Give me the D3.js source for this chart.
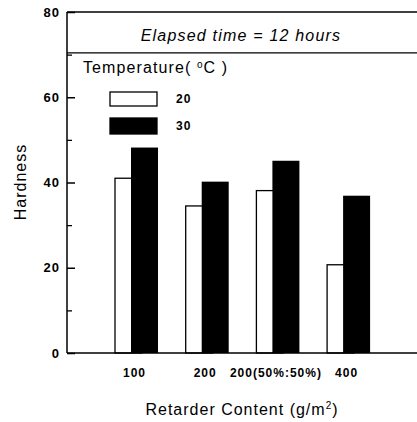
<!DOCTYPE html>
<html>
<head>
<meta charset="utf-8">
<script src="https://cdn.jsdelivr.net/npm/d3@7"></script>
<style>
  body { margin: 0; background: #fff; }
  svg text { font-family: "Liberation Sans", Arial, sans-serif; fill: #000; }
</style>
</head>
<body>
<div id="chart-area"></div>
<script>
const categories = ["100", "200", "200(50%:50%)", "400"];
const series = ["20", "30"];
const hardness20 = [41.0, 34.5, 38.1, 20.7];
const hardness30 = [48.2, 40.2, 45.1, 36.9];
const majorTicks = [0, 20, 40, 60, 80];
const minorTicks = [10, 30, 50, 70];

const svgWidth = 417;
const svgHeight = 422;
const plotLeft = 67, plotTop = 12, plotBottom = 353;

const svg = d3.select("#chart-area")
    .append("svg")
    .attr("width", svgWidth)
    .attr("height", svgHeight);

const yScale = d3.scaleLinear()
    .domain([0, 80])
    .range([plotBottom, plotTop]);

const xScale = d3.scaleBand()
    .domain(categories)
    .range([115, 115 + 4 * 70.7])
    .padding(0);

// white bar sits behind, black one overlaps it
const innerOffset = d3.scaleOrdinal().domain(series).range([0, 16]);
const barWidth = 27;

const rows = categories.map((c, i) => ({ cat: c, v20: hardness20[i], v30: hardness30[i] }));

// bars
svg.append("g").selectAll("rect")
    .data(rows)
    .join("rect")
    .attr("x", d => xScale(d.cat) + innerOffset("20"))
    .attr("y", d => yScale(d.v20))
    .attr("width", barWidth)
    .attr("height", d => yScale(0) - yScale(d.v20))
    .attr("fill", "#fff")
    .attr("stroke", "#000")
    .attr("stroke-width", 1.3);

svg.append("g").selectAll("rect")
    .data(rows)
    .join("rect")
    .attr("x", d => xScale(d.cat) + innerOffset("30"))
    .attr("y", d => yScale(d.v30))
    .attr("width", barWidth)
    .attr("height", d => yScale(0) - yScale(d.v30))
    .attr("fill", "#000");

// frame lines
svg.append("line")
    .attr("x1", plotLeft).attr("x2", svgWidth)
    .attr("y1", yScale(0)).attr("y2", yScale(0))
    .attr("stroke", "#000").attr("stroke-width", 1.5);
svg.append("line")
    .attr("x1", plotLeft).attr("x2", svgWidth)
    .attr("y1", yScale(80)).attr("y2", yScale(80))
    .attr("stroke", "#000").attr("stroke-width", 1.5);
svg.append("line")
    .attr("x1", plotLeft).attr("x2", svgWidth)
    .attr("y1", yScale(70.4)).attr("y2", yScale(70.4))
    .attr("stroke", "#000").attr("stroke-width", 1.3);

// y axis, ticks point inward
const yAxis = d3.axisRight(yScale)
    .tickValues(majorTicks)
    .tickSize(8)
    .tickFormat("");
const yAxisGroup = svg.append("g")
    .attr("transform", `translate(${plotLeft},0)`)
    .call(yAxis);
yAxisGroup.select(".domain").attr("stroke-width", 1.5).attr("d", `M0,${yScale(80)}V${yScale(0)}`);
yAxisGroup.selectAll("line").attr("stroke-width", 1.5);

svg.append("g")
    .attr("transform", `translate(${plotLeft},0)`)
    .call(d3.axisRight(yScale).tickValues(minorTicks).tickSize(5).tickFormat(""))
    .call(g => g.select(".domain").remove())
    .selectAll("line").attr("stroke-width", 1.3);

svg.append("g").selectAll("text")
    .data(majorTicks)
    .join("text")
    .attr("x", plotLeft - 7)
    .attr("y", d => yScale(d))
    .attr("dy", "0.36em")
    .attr("text-anchor", "end")
    .style("font-size", "13px")
    .style("font-weight", "bold")
    .style("letter-spacing", "1px")
    .text(d => d);

// x labels
svg.append("g").selectAll("text")
    .data(categories)
    .join("text")
    .attr("x", d => xScale(d) + 19.5)
    .attr("y", 377)
    .attr("text-anchor", "middle")
    .style("font-size", "12px")
    .style("font-weight", "bold")
    .style("letter-spacing", "1px")
    .text(d => d);

// title box text
svg.append("text")
    .attr("x", 241)
    .attr("y", 41)
    .attr("text-anchor", "middle")
    .style("font-size", "16px")
    .style("font-style", "italic")
    .style("letter-spacing", "1.2px")
    .text("Elapsed time = 12 hours");

// legend
const legendTitle = svg.append("text")
    .attr("x", 83)
    .attr("y", 73)
    .style("font-size", "16px")
    .style("letter-spacing", "1.1px");
legendTitle.append("tspan").text("Temperature( ");
legendTitle.append("tspan").attr("dy", -5).style("font-size", "10px").text("o");
legendTitle.append("tspan").attr("dy", 5).text("C )");

const legendY = d3.scaleOrdinal().domain(series).range([92, 118]);
svg.append("g").selectAll("rect")
    .data(series)
    .join("rect")
    .attr("x", 110)
    .attr("y", d => legendY(d))
    .attr("width", 47)
    .attr("height", d => d === "20" ? 14 : 16)
    .attr("fill", d => d === "20" ? "#fff" : "#000")
    .attr("stroke", "#000")
    .attr("stroke-width", 1.3);

svg.append("g").selectAll("text")
    .data(series)
    .join("text")
    .attr("x", 176)
    .attr("y", d => legendY(d) + (d === "20" ? 7 : 8))
    .attr("dy", "0.36em")
    .style("font-size", "12px")
    .style("font-weight", "bold")
    .style("letter-spacing", "1px")
    .text(d => d);

// axis titles
svg.append("text")
    .attr("transform", "rotate(-90)")
    .attr("x", -182)
    .attr("y", 26)
    .attr("text-anchor", "middle")
    .style("font-size", "16px")
    .style("letter-spacing", "1px")
    .text("Hardness");

const xTitle = svg.append("text")
    .attr("x", 242)
    .attr("y", 415)
    .attr("text-anchor", "middle")
    .style("font-size", "16px")
    .style("letter-spacing", "1px");
xTitle.append("tspan").text("Retarder Content (g/m");
xTitle.append("tspan").attr("dy", -6).style("font-size", "10px").text("2");
xTitle.append("tspan").attr("dy", 6).text(")");
</script>
</body>
</html>
